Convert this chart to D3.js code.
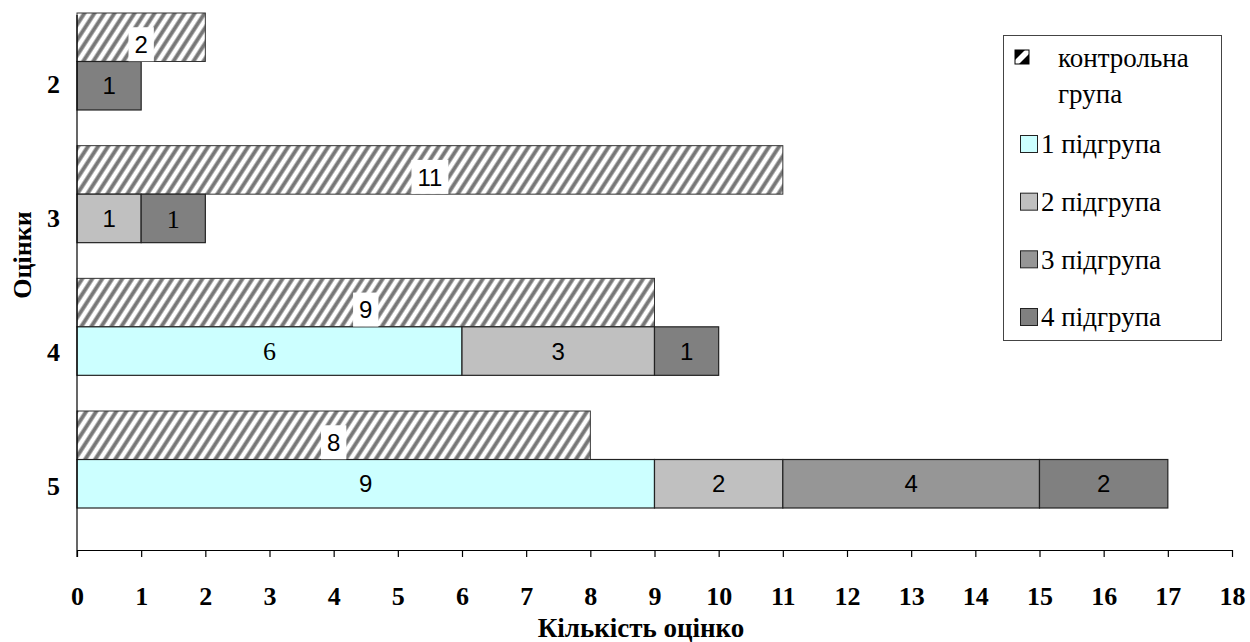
<!DOCTYPE html>
<html>
<head>
<meta charset="utf-8">
<script src="https://cdn.jsdelivr.net/npm/d3@7"></script>
<style>
  html, body { margin: 0; padding: 0; background: #fff; }
  svg { display: block; }
</style>
</head>
<body>
<svg id="chart" width="1250" height="642"></svg>
<script>
// Grades on the vertical axis and the counts per group
const grades = ["2", "3", "4", "5"];
const controlGroup = [2, 11, 9, 8];
const subgroupNames = ["1 підгрупа", "2 підгрупа", "3 підгрупа", "4 підгрупа"];
const subgroup1 = [0, 0, 6, 9];
const subgroup2 = [0, 1, 3, 2];
const subgroup3 = [0, 0, 0, 4];
const subgroup4 = [1, 1, 1, 2];
const xTickValues = [0, 1, 2, 3, 4, 5, 6, 7, 8, 9, 10, 11, 12, 13, 14, 15, 16, 17, 18];
const controlName = "контрольна група";
const xTitle = "Кількість оцінко";
const yTitle = "Оцінки";

const subgroupColors = ["#ccffff", "#c0c0c0", "#969696", "#808080"];
// a few segment labels (grade index | subgroup index) are set in a serif face
const serifLabels = new Set(["1|3", "2|0"]);

const SERIF = "Liberation Serif";
const SANS = "Liberation Sans";

const svg = d3.select("#chart");

const x = d3.scaleLinear().domain([0, 18]).range([77, 1232]);
const yBars = d3.scaleBand().domain(grades).range([13, 508]).paddingInner(0.269).paddingOuter(0);
const yInner = d3.scaleBand().domain(["control", "sub"]).range([0, yBars.bandwidth()]);
const yLabels = d3.scaleBand().domain(grades).range([18, 554]);

// hatch pattern for the control group
const defs = svg.append("defs");
const hatch = defs.append("pattern")
  .attr("id", "hatch")
  .attr("patternUnits", "userSpaceOnUse")
  .attr("width", 8.4).attr("height", 10)
  .attr("patternTransform", "rotate(33)");
hatch.append("rect").attr("width", 8.4).attr("height", 10).attr("fill", "#ffffff");
hatch.append("rect").attr("x", 0.1).attr("width", 4.6).attr("height", 10).attr("fill", "#b4b4b4");
hatch.append("rect").attr("x", 0.9).attr("width", 3.0).attr("height", 10).attr("fill", "#777777");

// stacked subgroup segments
const subSeries = [subgroup1, subgroup2, subgroup3, subgroup4];
const rows = grades.map((g, i) => {
  const row = { grade: g };
  subgroupNames.forEach((n, k) => { row[n] = subSeries[k][i]; });
  return row;
});
const stacked = d3.stack().keys(subgroupNames)(rows);

const plot = svg.append("g");

// control bars
grades.forEach((g, i) => {
  const y0 = yBars(g) + yInner("control");
  plot.append("rect")
    .attr("x", x(0)).attr("y", y0)
    .attr("width", x(controlGroup[i]) - x(0))
    .attr("height", yInner.bandwidth())
    .attr("fill", "url(#hatch)")
    .attr("stroke", "#333").attr("stroke-width", 1);
});

stacked.forEach((layer, k) => {
  layer.forEach((d, i) => {
    const v = d[1] - d[0];
    if (v <= 0) return;
    const y0 = yBars(grades[i]) + yInner("sub");
    plot.append("rect")
      .attr("x", x(d[0])).attr("y", y0)
      .attr("width", x(d[1]) - x(d[0]))
      .attr("height", yInner.bandwidth())
      .attr("fill", subgroupColors[k])
      .attr("stroke", "#222").attr("stroke-width", 1.2);
    const serif = serifLabels.has(i + "|" + k);
    plot.append("text")
      .attr("x", (x(d[0]) + x(d[1])) / 2)
      .attr("y", y0 + yInner.bandwidth() / 2)
      .attr("dy", "0.36em")
      .attr("text-anchor", "middle")
      .style("font-family", serif ? SERIF : SANS)
      .style("font-size", (serif ? 26 : 24) + "px")
      .attr("fill", "#000")
      .text(v);
  });
});

// control labels on white boxes
grades.forEach((g, i) => {
  const cx = (x(0) + x(controlGroup[i])) / 2;
  const cy = yBars(g) + yInner("control") + yInner.bandwidth() / 2 + 7;
  const t = plot.append("text")
    .attr("x", cx).attr("y", cy).attr("dy", "0.36em")
    .attr("text-anchor", "middle")
    .style("font-family", SANS).style("font-size", "24px")
    .attr("fill", "#000")
    .text(controlGroup[i]);
  const bb = t.node().getBBox();
  plot.insert("rect", function () { return t.node(); })
    .attr("x", bb.x - 6).attr("y", cy - 17)
    .attr("width", bb.width + 12).attr("height", 34)
    .attr("fill", "#fff");
});

// x axis
const xAxis = svg.append("g")
  .attr("transform", `translate(0,550)`)
  .call(d3.axisBottom(x).tickValues(xTickValues).tickSize(7).tickPadding(30).tickSizeOuter(0));
xAxis.select(".domain").attr("stroke", "#000").attr("stroke-width", 1.2);
xAxis.selectAll(".tick line").attr("stroke", "#000").attr("stroke-width", 1.2);
xAxis.selectAll(".tick text")
  .style("font-family", SERIF).style("font-size", "26px").style("font-weight", "bold").attr("fill", "#000");

// y axis line
svg.append("line")
  .attr("x1", x(0)).attr("x2", x(0))
  .attr("y1", 15).attr("y2", 557)
  .attr("stroke", "#000").attr("stroke-width", 1.2);

const yAxis = svg.append("g")
  .attr("transform", `translate(${x(0)},0)`)
  .call(d3.axisLeft(yLabels).tickSize(0).tickPadding(17));
yAxis.select(".domain").remove();
yAxis.selectAll(".tick text")
  .style("font-family", SERIF).style("font-size", "26px").style("font-weight", "bold").attr("fill", "#000");

// axis titles
svg.append("text")
  .attr("x", 641).attr("y", 637)
  .attr("text-anchor", "middle")
  .style("font-family", SERIF).style("font-size", "27px").style("font-weight", "bold")
  .text(xTitle);

svg.append("text")
  .attr("transform", "translate(31,255) rotate(-90)")
  .attr("text-anchor", "middle")
  .style("font-family", SERIF).style("font-size", "26px").style("font-weight", "bold")
  .text(yTitle);

// legend
const legend = svg.append("g");
legend.append("rect")
  .attr("x", 1003.5).attr("y", 35.5).attr("width", 218).attr("height", 305)
  .attr("fill", "#fff").attr("stroke", "#444").attr("stroke-width", 1);

const sw = legend.append("g").attr("transform", "translate(1015,50)");
sw.append("rect").attr("width", 14).attr("height", 14).attr("fill", "#000");
sw.append("path").attr("d", "M0,10 L10,0 L14,0 L14,4 L4,14 L0,14 Z").attr("fill", "#fff");
sw.append("rect").attr("width", 14).attr("height", 14).attr("fill", "none").attr("stroke", "#000");

const ctrlWords = controlName.split(" ");
legend.append("text")
  .style("font-family", SERIF).style("font-size", "27px").attr("fill", "#000")
  .selectAll("tspan").data(ctrlWords).join("tspan")
  .attr("x", 1058).attr("y", (d, i) => 67 + i * 36)
  .text(d => d);

const legendY = d3.scalePoint().domain(subgroupNames).range([144, 317]);
subgroupNames.forEach((n, k) => {
  const cy = legendY(n);
  legend.append("rect")
    .attr("x", 1020.5).attr("y", cy - 8.5).attr("width", 17).attr("height", 17)
    .attr("fill", subgroupColors[k]).attr("stroke", "#222").attr("stroke-width", 1);
  legend.append("text")
    .attr("x", 1041).attr("y", cy).attr("dy", "0.35em")
    .style("font-family", SERIF).style("font-size", "27px").attr("fill", "#000")
    .text(n);
});
</script>
</body>
</html>
